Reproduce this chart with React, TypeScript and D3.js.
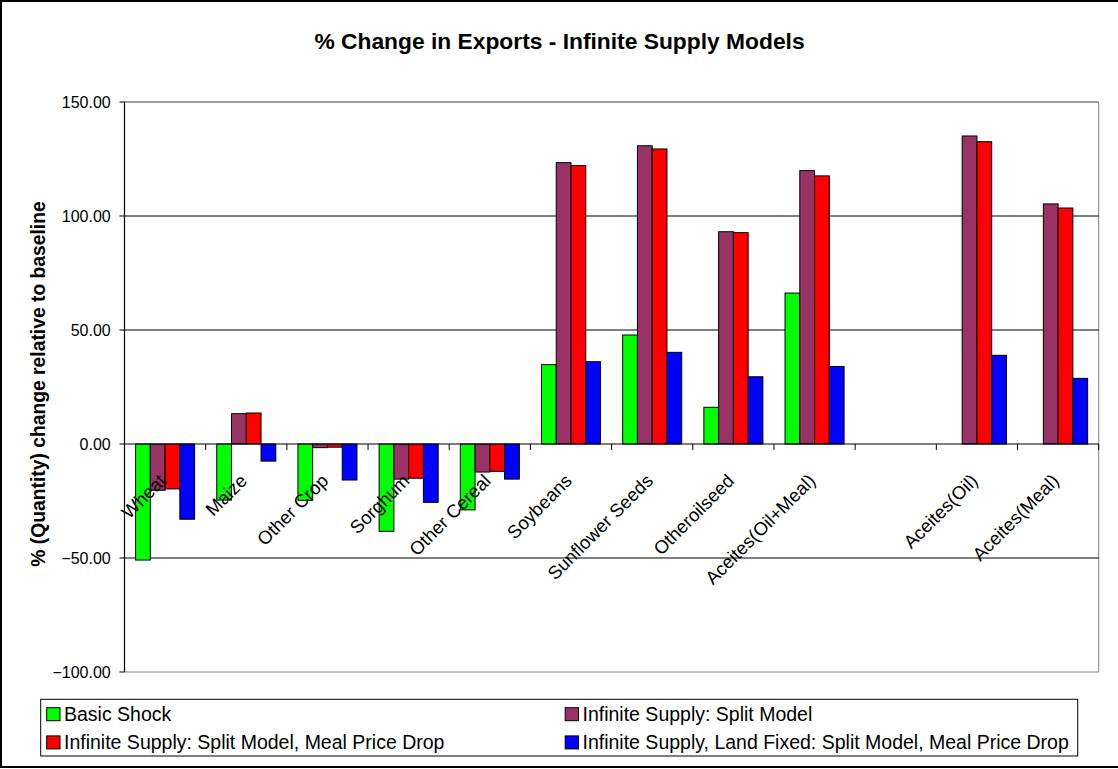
import React from "react";
import * as d3 from "d3";

const categories = [
  "Wheat", "Maize", "Other Crop", "Sorghum", "Other Cereal", "Soybeans",
  "Sunflower Seeds", "Otheroilseed", "Aceites(Oil+Meal)", "", "Aceites(Oil)", "Aceites(Meal)",
];

const seriesNames = [
  "Basic Shock",
  "Infinite Supply: Split Model",
  "Infinite Supply: Split Model, Meal Price Drop",
  "Infinite Supply, Land Fixed: Split Model, Meal Price Drop",
];

const seriesColors = ["#00FF00", "#993366", "#FF0000", "#0000FF"];

const basicShock: (number | null)[] = [-50.9, -24.6, -24.7, -38.3, -28.9, 34.8, 47.8, 16.1, 66.2, null, null, null];
const splitModel: (number | null)[] = [-20.3, 13.3, -1.6, -15.4, -12.3, 123.4, 130.8, 93.1, 119.9, null, 135.1, 105.3];
const mealPriceDrop: (number | null)[] = [-19.7, 13.6, -1.4, -15.0, -12.0, 122.1, 129.4, 92.7, 117.6, null, 132.6, 103.5];
const landFixed: (number | null)[] = [-33.0, -7.5, -15.8, -25.6, -15.4, 36.1, 40.2, 29.5, 34.0, null, 38.9, 28.8];

const seriesValues = [basicShock, splitModel, mealPriceDrop, landFixed];

const yTicks = [-100, -50, 0, 50, 100, 150];

const W = 1118;
const H = 769;
const plotLeft = 124.5;
const plotRight = 1098.7;
const plotTop = 102;
const plotBottom = 672;

export default function App() {
  const x = d3
    .scaleBand<number>()
    .domain(categories.map((_, i) => i))
    .range([plotLeft, plotRight])
    .paddingInner(0)
    .paddingOuter(0);
  const xs = d3
    .scaleBand<number>()
    .domain(seriesNames.map((_, i) => i))
    .range([0, x.bandwidth()])
    .paddingInner(0)
    .paddingOuter(0.75);
  const y = d3.scaleLinear().domain([-100, 150]).range([plotBottom, plotTop]);
  const fmt = d3.format(".2f");
  const y0 = y(0);

  const legendLeft = 40.7;
  const legendTop = 699.3;
  const legendW = 1037;
  const legendH = 56.7;

  return (
    <div>
      <style>{`body{margin:0;}`}</style>
      <svg width={W} height={H} style={{ display: "block", fontFamily: "Arial, 'Liberation Sans', sans-serif" }}>
        <rect x={0} y={0} width={W} height={H} fill="#fff" />
        <rect x={1} y={1} width={W + 10} height={766} fill="none" stroke="#000" strokeWidth={2} />

        <text x={559.5} y={48.7} textAnchor="middle" fontWeight="bold" fontSize={22.8} fill="#000">
          % Change in Exports - Infinite Supply Models
        </text>

        {/* plot area border */}
        <rect x={plotLeft} y={plotTop} width={plotRight - plotLeft} height={plotBottom - plotTop} fill="none" stroke="#808080" strokeWidth={1} />

        {/* gridlines */}
        {yTicks.filter((t) => t !== -100 && t !== 0).map((t) => (
          <line key={"g" + t} x1={plotLeft} x2={plotRight} y1={y(t)} y2={y(t)} stroke={t === 150 ? "#808080" : "#000"} strokeWidth={1} />
        ))}

        {/* bars */}
        {seriesValues.map((vals, s) =>
          vals.map((v, i) =>
            v === null ? null : (
              <rect
                key={`b${s}-${i}`}
                x={(x(i) as number) + (xs(s) as number)}
                y={Math.min(y(v), y0)}
                width={xs.bandwidth()}
                height={Math.abs(y(v) - y0)}
                fill={seriesColors[s]}
                stroke="#000"
                strokeWidth={1}
              />
            )
          )
        )}

        {/* y axis */}
        <line x1={plotLeft} x2={plotLeft} y1={plotTop} y2={plotBottom} stroke="#000" strokeWidth={1.2} />
        {yTicks.map((t) => (
          <g key={"yt" + t}>
            <line x1={plotLeft - 5} x2={plotLeft} y1={y(t)} y2={y(t)} stroke="#000" strokeWidth={1} />
            <text x={110.7} y={y(t) + 5.8} textAnchor="end" fontSize={16} fill="#000">
              {fmt(t)}
            </text>
          </g>
        ))}

        {/* x axis at zero */}
        <line x1={plotLeft} x2={plotRight} y1={y0} y2={y0} stroke="#000" strokeWidth={1.2} />
        {categories.map((_, i) => (
          <line key={"xt" + i} x1={x(i) as number} x2={x(i) as number} y1={y0} y2={y0 + 6} stroke="#000" strokeWidth={1} />
        ))}
        <line x1={plotRight} x2={plotRight} y1={y0} y2={y0 + 6} stroke="#000" strokeWidth={1} />
        {categories.map((c, i) => {
          const cx = (x(i) as number) + x.bandwidth() / 2;
          return (
            <text
              key={"xl" + i}
              transform={`translate(${cx + 2},${y0 + 38}) rotate(-45)`}
              textAnchor="end"
              fontSize={18.5}
              fill="#000"
            >
              {c}
            </text>
          );
        })}

        {/* y axis title */}
        <text transform={`translate(45,384) rotate(-90)`} textAnchor="middle" fontWeight="bold" fontSize={19.3} fill="#000">
          % (Quantity) change relative to baseline
        </text>

        {/* legend */}
        <rect x={legendLeft} y={legendTop} width={legendW} height={legendH} fill="#fff" stroke="#000" strokeWidth={1} />
        {seriesNames.map((name, s) => {
          const col = s % 2;
          const row = Math.floor(s / 2);
          const lx = legendLeft + 6 + col * (legendW / 2);
          const ly = legendTop + 8.4 + row * 28.2;
          return (
            <g key={"lg" + s}>
              <rect x={lx} y={ly} width={13.3} height={13} fill={seriesColors[s]} stroke="#000" strokeWidth={1} />
              <text x={lx + 17.3} y={ly + 13} fontSize={19.5} fill="#000">
                {name}
              </text>
            </g>
          );
        })}
      </svg>
    </div>
  );
}
